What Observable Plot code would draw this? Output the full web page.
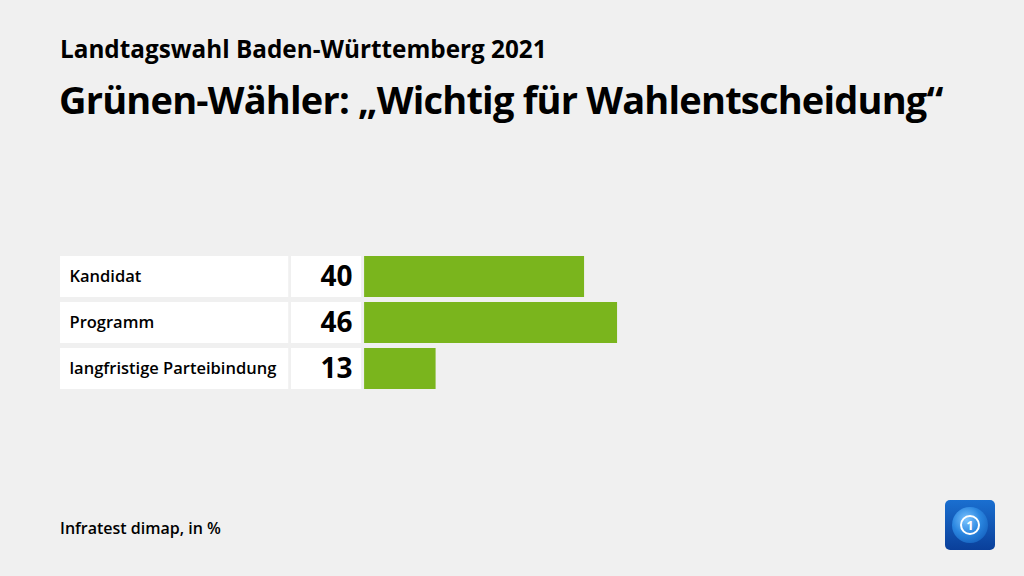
<!DOCTYPE html>
<html>
<head>
<meta charset="utf-8">
<script src="https://cdn.jsdelivr.net/npm/d3@7"></script>
<script src="https://cdn.jsdelivr.net/npm/@observablehq/plot@0.6"></script>
<style>
  html, body { margin: 0; padding: 0; }
  body { width: 1024px; height: 576px; background: #f0f0f0; position: relative; overflow: hidden;
         font-family: "Open Sans", Lato, sans-serif; color: #000; }
  #sub { position: absolute; left: 60px; top: 32px; font-size: 24.3px; font-weight: 700; letter-spacing: 0px; white-space: nowrap; }
  #title { position: absolute; left: 59px; top: 73px; font-size: 38px; font-weight: 700; letter-spacing: -0.8px; white-space: nowrap; }
  #chart { position: absolute; left: 0; top: 250px; }
  #caption { position: absolute; left: 60px; top: 517px; font-size: 16px; font-weight: 600; white-space: nowrap; }
  #logo { position: absolute; left: 945px; top: 500px; width: 50px; height: 50px; border-radius: 5px;
          background: linear-gradient(180deg, #1a6fd0 0%, #0a3f9a 100%); }
  #logo .globe { position: absolute; left: 7px; top: 7px; width: 36px; height: 36px; border-radius: 50%;
          background: radial-gradient(circle at 40% 35%, #7cc4ff 0%, #2a86e0 45%, #0b4fae 100%); }
  #logo .one { position: absolute; left: 15px; top: 15px; width: 20px; height: 20px; border-radius: 50%;
          border: 2px solid #fff; box-sizing: border-box; color: #fff; font: 700 13px "Open Sans", sans-serif;
          text-align: center; line-height: 16px; }
</style>
</head>
<body>
<div id="sub">Landtagswahl Baden-Württemberg 2021</div>
<div id="title">Grünen-Wähler: „Wichtig für Wahlentscheidung“</div>
<div id="chart"></div>
<div id="caption">Infratest dimap, in %</div>
<div id="logo"><div class="globe"></div><div class="one">1</div></div>
<script>
const categories = ["Kandidat", "Programm", "langfristige Parteibindung"];
const values = [40, 46, 13];

const data = categories.map((c, i) => ({category: c, value: values[i]}));

// layout (in value units on the shared x scale)
const labelStart = -55.3, labelEnd = -13.8, valueStart = -13.3, valueEnd = -0.55;

const chart = Plot.plot({
  width: 1024,
  height: 150,
  margin: 0,
  style: {background: "transparent", fontFamily: "'Open Sans', Lato, sans-serif"},
  x: {domain: [labelStart, 100], range: [60, 914], axis: null},
  y: {domain: categories, range: [5, 140], paddingInner: 0.1, paddingOuter: 0, axis: null},
  marks: [
    Plot.barX(data, {y: "category", x1: labelStart, x2: labelEnd, fill: "#ffffff"}),
    Plot.barX(data, {y: "category", x1: valueStart, x2: valueEnd, fill: "#ffffff"}),
    Plot.barX(data, {y: "category", x1: 0, x2: "value", fill: "#7ab51d"}),
    Plot.text(data, {y: "category", x: labelStart, dx: 9, text: "category", textAnchor: "start",
      fontSize: 16.5, fontWeight: 600, fill: "#000"}),
    Plot.text(data, {y: "category", x: 0, dx: -12, text: d => String(d.value), textAnchor: "end",
      fontSize: 28, fontWeight: 700, fill: "#000"})
  ]
});
document.getElementById("chart").appendChild(chart);
</script>
</body>
</html>
